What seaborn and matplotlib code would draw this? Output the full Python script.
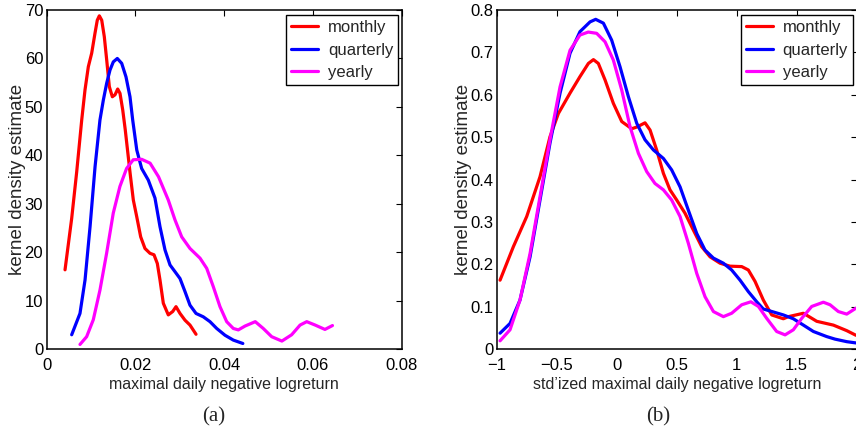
import pandas as pd
import matplotlib.pyplot as plt
import seaborn as sns

# ---- panel (a): raw maximal daily negative logreturn ----
a_monthly_x = [0.00413, 0.00563, 0.00676, 0.00789, 0.00863, 0.00938, 0.01014, 0.01088, 0.0114,
               0.01186, 0.0124, 0.01298, 0.01352, 0.01411, 0.01479, 0.01539, 0.016, 0.01652,
               0.01713, 0.0177, 0.0188, 0.01952, 0.02028, 0.02118, 0.02215, 0.02328, 0.02418,
               0.02493, 0.02553, 0.02628, 0.0274, 0.0284, 0.02914, 0.03004, 0.03117, 0.03229,
               0.03365]
a_monthly_y = [16.4, 27.0, 36.6, 47.3, 53.5, 58.3, 61.1, 65.2, 67.9,
               68.8, 67.9, 64.5, 59.7, 54.2, 52.1, 52.5, 53.7, 52.8,
               49.4, 45.3, 36.3, 30.8, 27.4, 23.2, 20.8, 19.8, 19.5,
               17.7, 14.3, 9.5, 7.1, 7.8, 8.8, 7.4, 6.0, 5.0,
               3.1]

a_quarterly_x = [0.00563, 0.0075, 0.00864, 0.00977, 0.0109, 0.012, 0.01276, 0.01352, 0.01426,
                 0.01501, 0.01591, 0.0169, 0.01787, 0.01877, 0.01938, 0.0203, 0.0214, 0.0229,
                 0.0244, 0.02553, 0.02666, 0.02779, 0.02892, 0.03004, 0.03117, 0.03229, 0.03365,
                 0.03529, 0.0368, 0.03831, 0.04018, 0.04205, 0.0442]
a_quarterly_y = [3.0, 7.4, 14.3, 25.3, 37.7, 47.3, 51.4, 54.9, 57.6,
                 59.3, 60.0, 59.0, 56.2, 52.1, 47.3, 41.1, 37.3, 34.9,
                 31.2, 25.3, 20.5, 17.4, 16.0, 14.6, 11.9, 9.1, 7.4,
                 6.7, 5.7, 4.3, 2.9, 1.9, 1.2]

a_yearly_x = [0.0075, 0.009, 0.0105, 0.012, 0.0135, 0.015, 0.0165, 0.018, 0.0195, 0.0214,
              0.0233, 0.0252, 0.0274, 0.02891, 0.03042, 0.03229, 0.03455, 0.03606, 0.03755,
              0.03905, 0.04056, 0.04205, 0.04318, 0.0447, 0.047, 0.0488, 0.0507, 0.053,
              0.0552, 0.0571, 0.0586, 0.0605, 0.0627, 0.0644]
a_yearly_y = [1.0, 2.6, 6.1, 12.2, 19.8, 28.1, 33.6, 37.3, 39.1, 39.2,
              38.4, 35.6, 30.8, 26.7, 23.2, 20.8, 18.8, 16.7, 12.9,
              8.8, 5.7, 4.3, 4.0, 4.8, 5.7, 4.3, 2.6, 1.7,
              3.0, 5.0, 5.7, 5.0, 4.1, 4.9]

# ---- panel (b): standardized ----
b_monthly_x = [-0.972, -0.861, -0.75, -0.639, -0.556, -0.486, -0.389, -0.306, -0.236, -0.194,
               -0.153, -0.097, -0.028, 0.042, 0.125, 0.167, 0.236, 0.278, 0.333, 0.389,
               0.444, 0.5, 0.569, 0.639, 0.708, 0.778, 0.861, 0.944, 1.042, 1.097,
               1.153, 1.222, 1.292, 1.389, 1.431, 1.556, 1.667, 1.806, 1.917, 1.994]
b_monthly_y = [0.163, 0.242, 0.313, 0.407, 0.501, 0.556, 0.604, 0.643, 0.674, 0.683,
               0.674, 0.635, 0.580, 0.537, 0.520, 0.524, 0.534, 0.517, 0.470, 0.415,
               0.376, 0.352, 0.321, 0.281, 0.242, 0.218, 0.203, 0.196, 0.195, 0.187,
               0.160, 0.116, 0.081, 0.072, 0.077, 0.085, 0.066, 0.057, 0.044, 0.033]

b_quarterly_x = [-0.972, -0.889, -0.806, -0.722, -0.639, -0.556, -0.472, -0.389, -0.306, -0.222,
                 -0.175, -0.111, -0.042, 0.028, 0.097, 0.167, 0.236, 0.306, 0.389, 0.458,
                 0.528, 0.597, 0.667, 0.736, 0.806, 0.889, 0.958, 1.028, 1.097, 1.167,
                 1.222, 1.306, 1.389, 1.472, 1.556, 1.639, 1.75, 1.819, 1.917, 1.994]
b_quarterly_y = [0.038, 0.061, 0.116, 0.218, 0.352, 0.486, 0.604, 0.698, 0.749, 0.772,
                 0.778, 0.769, 0.729, 0.666, 0.596, 0.533, 0.494, 0.470, 0.450, 0.423,
                 0.383, 0.328, 0.273, 0.234, 0.215, 0.203, 0.187, 0.163, 0.136, 0.112,
                 0.095, 0.088, 0.081, 0.072, 0.057, 0.042, 0.030, 0.024, 0.018, 0.015]

b_yearly_x = [-0.972, -0.889, -0.806, -0.722, -0.639, -0.556, -0.472, -0.389, -0.306, -0.237,
              -0.167, -0.097, -0.028, 0.042, 0.111, 0.181, 0.25, 0.319, 0.389, 0.458,
              0.528, 0.597, 0.667, 0.736, 0.806, 0.889, 0.958, 1.042, 1.118, 1.181,
              1.25, 1.333, 1.403, 1.472, 1.542, 1.625, 1.722, 1.778, 1.847, 1.917, 1.994]
b_yearly_y = [0.020, 0.046, 0.116, 0.226, 0.360, 0.494, 0.619, 0.705, 0.741, 0.748,
              0.745, 0.725, 0.682, 0.611, 0.525, 0.462, 0.419, 0.391, 0.376, 0.352,
              0.313, 0.250, 0.179, 0.124, 0.089, 0.077, 0.085, 0.105, 0.112, 0.101,
              0.073, 0.042, 0.034, 0.046, 0.073, 0.101, 0.111, 0.105, 0.089, 0.083, 0.097]

series_names = ['monthly', 'quarterly', 'yearly']
colors = ['#ff0000', '#0000ff', '#ff00ff']

a_xticks = [0, 0.02, 0.04, 0.06, 0.08]
a_xticklabels = ['0', '0.02', '0.04', '0.06', '0.08']
a_yticks = [0, 10, 20, 30, 40, 50, 60, 70]
b_xticks = [-1, -0.5, 0, 0.5, 1, 1.5, 2]
b_xticklabels = ['\u22121', '\u22120.5', '0', '0.5', '1', '1.5', '2']
b_yticks = [0, 0.1, 0.2, 0.3, 0.4, 0.5, 0.6, 0.7, 0.8]
b_yticklabels = ['0', '0.1', '0.2', '0.3', '0.4', '0.5', '0.6', '0.7', '0.8']


def make_frame(xs, ys):
    parts = []
    for name, x, y in zip(series_names, xs, ys):
        parts.append(pd.DataFrame({'x': x, 'y': y, 'series': name}))
    return pd.concat(parts, ignore_index=True)


df_a = make_frame([a_monthly_x, a_quarterly_x, a_yearly_x], [a_monthly_y, a_quarterly_y, a_yearly_y])
df_b = make_frame([b_monthly_x, b_quarterly_x, b_yearly_x], [b_monthly_y, b_quarterly_y, b_yearly_y])

sns.set_style("white")
plt.rcParams['font.family'] = ['Liberation Sans', 'DejaVu Sans']
plt.rcParams['axes.unicode_minus'] = True

fig = plt.figure(figsize=(8.56, 4.34), dpi=100)
W, H = 856, 434
ax1 = fig.add_axes([46.7 / W, (H - 349.3) / H, 355 / W, 339.3 / H])
ax2 = fig.add_axes([496.7 / W, (H - 349.3) / H, 360 / W, 339.3 / H])

palette = dict(zip(series_names, colors))
for ax, df in [(ax1, df_a), (ax2, df_b)]:
    sns.lineplot(data=df, x='x', y='y', hue='series', palette=palette, sort=False,
                 estimator=None, units='series', lw=2.3, ax=ax)

ax1.set_xlim(0, 0.08)
ax1.set_ylim(0, 70)
ax1.set_xticks(a_xticks)
ax1.set_xticklabels(a_xticklabels)
ax1.set_yticks(a_yticks)
ax1.set_xlabel('maximal daily negative logreturn', fontsize=11.5, labelpad=3)
ax1.set_ylabel('kernel density estimate', fontsize=13.5)
ax1.yaxis.set_label_coords(-0.059, 0.5)

ax2.set_xlim(-1, 2)
ax2.set_ylim(0, 0.8)
ax2.set_xticks(b_xticks)
ax2.set_xticklabels(b_xticklabels)
ax2.set_yticks(b_yticks)
ax2.set_yticklabels(b_yticklabels)
ax2.set_xlabel("std\u2019ized maximal daily negative logreturn", fontsize=11.5, labelpad=3)
ax2.set_ylabel('kernel density estimate', fontsize=13.5)
ax2.yaxis.set_label_coords(-0.07, 0.5)

for ax in (ax1, ax2):
    for s in ax.spines.values():
        s.set_color('black')
        s.set_linewidth(1.1)
    ax.tick_params(axis='both', direction='in', length=4, width=0.8, top=True, right=True,
                   labelsize=12, colors='black')
    ax.tick_params(axis='x', pad=6)
    ax.tick_params(axis='y', pad=2.5)
    handles, labels = ax.get_legend_handles_labels()
    leg = ax.legend(handles, labels, loc='upper right', bbox_to_anchor=(0.99, 0.985),
                    fontsize=12, frameon=True, fancybox=False, edgecolor='black',
                    framealpha=1, borderpad=0.3, labelspacing=0.45, handlelength=1.6,
                    handletextpad=0.6, borderaxespad=0)
    leg.get_frame().set_linewidth(1.0)
    for line in leg.get_lines():
        line.set_linewidth(2.3)

fig.text(213.5 / W, 1 - 417 / H, '(a)', ha='center', va='center', fontsize=15,
         family='Liberation Serif')
fig.text(658 / W, 1 - 417 / H, '(b)', ha='center', va='center', fontsize=15,
         family='Liberation Serif')

plt.savefig('out.png', dpi=100)
plt.close()
